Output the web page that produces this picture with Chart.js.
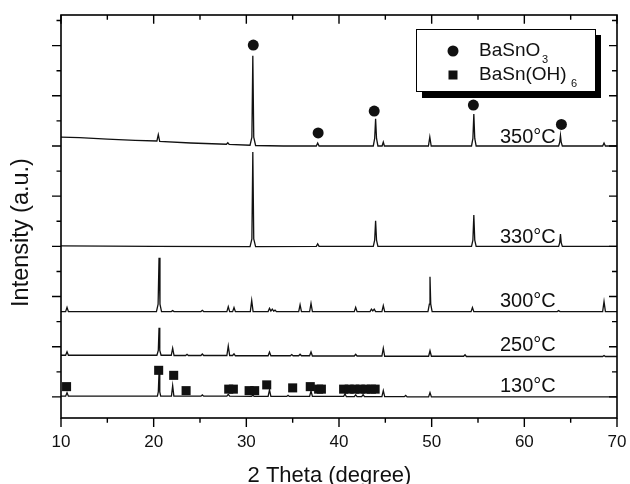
<!DOCTYPE html>
<html>
<head>
<meta charset="utf-8">
<script src="https://cdn.jsdelivr.net/npm/chart.js@4/dist/chart.umd.min.js"></script>
<style>
html,body{margin:0;padding:0;background:#fff;}
#wrap{width:630px;height:484px;position:relative;}
</style>
</head>
<body>
<div id="wrap"><canvas id="c" width="630" height="484"></canvas></div>
<script>
// ---- Data (2θ in degrees, intensity in arbitrary offset units) ----
const xTicks = [10, 20, 30, 40, 50, 60, 70];
const seriesNames = ['350°C', '330°C', '300°C', '250°C', '130°C'];

const s350 = [[10,10.35],[12,10.33],[15,10.27],[18,10.22],[20.35,10.2],[20.5,10.45],[20.65,10.18],[24,10.12],[27.85,10.07],[28.0,10.13],[28.15,10.06],[30.4,10.03],[30.6,10.35],[30.7,13.6],[30.8,10.35],[31.0,10.02],[34,10.0],[37.55,10.0],[37.7,10.12],[37.85,10.0],[43.7,10.0],[43.85,10.3],[43.95,11.08],[44.05,10.3],[44.2,10.0],[44.65,10.0],[44.78,10.16],[44.9,10.0],[49.65,10.0],[49.8,10.36],[49.95,10.0],[54.3,10.0],[54.45,10.3],[54.55,11.27],[54.65,10.3],[54.8,10.0],[63.7,10.0],[63.82,10.15],[63.9,10.42],[63.98,10.15],[64.1,10.0],[68.45,10.0],[68.6,10.12],[68.75,10.0],[70,10.0]];

const s330 = [[10,6.02],[20,6.0],[30.4,5.99],[30.6,6.3],[30.7,9.76],[30.8,6.3],[31.0,5.99],[37.55,6.0],[37.7,6.1],[37.85,6.0],[43.7,6.0],[43.85,6.25],[43.95,7.02],[44.05,6.25],[44.2,6.0],[54.3,6.0],[54.45,6.25],[54.55,7.25],[54.65,6.25],[54.8,6.0],[63.7,6.0],[63.82,6.15],[63.9,6.49],[63.98,6.15],[64.1,6.0],[70,6.0]];

const s300 = [[10,3.4],[10.5,3.4],[10.65,3.57],[10.8,3.4],[20.3,3.4],[20.48,3.7],[20.58,5.55],[20.68,3.7],[20.85,3.4],[21.9,3.4],[22.05,3.44],[22.2,3.4],[25.1,3.4],[25.25,3.45],[25.4,3.4],[27.9,3.4],[28.05,3.6],[28.2,3.4],[28.52,3.4],[28.67,3.56],[28.82,3.4],[30.43,3.4],[30.58,3.84],[30.73,3.4],[32.35,3.4],[32.5,3.53],[32.65,3.42],[32.8,3.5],[32.95,3.42],[33.1,3.46],[33.25,3.4],[35.65,3.4],[35.8,3.67],[35.95,3.4],[36.83,3.4],[36.98,3.73],[37.13,3.4],[41.65,3.4],[41.8,3.57],[41.95,3.4],[43.35,3.4],[43.5,3.5],[43.65,3.43],[43.8,3.5],[43.95,3.4],[44.63,3.4],[44.78,3.64],[44.93,3.4],[49.6,3.4],[49.75,3.7],[49.82,4.79],[49.9,3.7],[50.05,3.4],[54.25,3.4],[54.4,3.56],[54.55,3.4],[63.55,3.4],[63.7,3.44],[63.85,3.4],[68.45,3.4],[68.6,3.8],[68.75,3.4],[70,3.4]];

const s250 = [[10,1.66],[10.5,1.66],[10.65,1.8],[10.8,1.66],[20.35,1.66],[20.5,1.85],[20.58,2.76],[20.66,1.85],[20.8,1.66],[21.9,1.66],[22.05,1.94],[22.2,1.65],[23.45,1.65],[23.6,1.7],[23.75,1.65],[25.1,1.65],[25.25,1.71],[25.4,1.65],[27.9,1.65],[28.05,2.03],[28.2,1.65],[28.52,1.65],[28.67,1.72],[28.82,1.64],[32.35,1.64],[32.5,1.79],[32.65,1.64],[34.75,1.64],[34.9,1.69],[35.05,1.64],[35.65,1.64],[35.8,1.7],[35.95,1.64],[36.83,1.64],[36.98,1.79],[37.13,1.63],[41.65,1.63],[41.8,1.7],[41.95,1.63],[44.63,1.63],[44.78,1.94],[44.93,1.62],[49.67,1.62],[49.82,1.84],[49.97,1.62],[53.45,1.62],[53.6,1.68],[53.75,1.61],[68.45,1.61],[68.6,1.65],[68.75,1.61],[70,1.61]];

const s130 = [[10,0.03],[10.5,0.03],[10.65,0.17],[10.8,0.03],[20.4,0.03],[20.5,0.2],[20.58,0.98],[20.66,0.2],[20.76,0.03],[21.92,0.03],[22.05,0.45],[22.18,0.03],[25.1,0.03],[25.25,0.08],[25.4,0.03],[27.9,0.03],[28.05,0.1],[28.2,0.03],[30.55,0.02],[30.7,0.07],[30.85,0.02],[32.35,0.02],[32.5,0.28],[32.65,0.02],[34.35,0.02],[34.5,0.06],[34.65,0.02],[36.83,0.02],[36.98,0.24],[37.13,0.02],[40.5,0.02],[40.65,0.12],[40.8,0.01],[41.65,0.01],[41.8,0.08],[41.95,0.01],[42.45,0.01],[42.6,0.09],[42.75,0.01],[44.63,0.01],[44.78,0.25],[44.93,0.01],[47.05,0.01],[47.2,0.06],[47.35,0.0],[49.67,0.0],[49.82,0.17],[49.97,0.0],[70,0.0]];

const basno3Marks = [[30.75,14.02],[37.75,10.52],[43.8,11.39],[54.5,11.63],[64.0,10.86]];
const basnoh6Marks = [[10.6,0.41],[20.54,1.06],[22.16,0.86],[23.5,0.25],[28.1,0.31],[28.6,0.31],[30.3,0.25],[30.9,0.25],[32.2,0.48],[35.0,0.36],[36.9,0.41],[37.8,0.31],[38.1,0.31],[40.5,0.31],[41.1,0.31],[41.7,0.31],[42.3,0.31],[42.9,0.31],[43.5,0.31],[43.9,0.31]];

const toXY = arr => arr.map(p => ({x: p[0], y: p[1]}));
const FONT = '"Liberation Sans", Arial, Helvetica, sans-serif';

const curveSets = [s350, s330, s300, s250, s130].map((d, i) => ({
  label: seriesNames[i],
  data: toXY(d),
  borderColor: '#111',
  borderWidth: 1.3,
  pointRadius: 0,
  fill: false,
  tension: 0,
  order: 2
}));

const decor = {
  id: 'decor',
  afterDraw(chart) {
    const ctx = chart.ctx, a = chart.chartArea;
    const xs = chart.scales.x, ys = chart.scales.y;
    ctx.save();
    ctx.strokeStyle = '#000';
    // frame
    ctx.lineWidth = 1.6;
    ctx.strokeRect(a.left, a.top, a.right - a.left, a.bottom - a.top);
    // x ticks (bottom outward, top inward)
    ctx.lineWidth = 1.4;
    for (let v = 10; v <= 70; v += 5) {
      const px = xs.getPixelForValue(v);
      const major = v % 10 === 0;
      const L = major ? 9 : 4.7;
      ctx.beginPath();
      ctx.moveTo(px, a.bottom); ctx.lineTo(px, a.bottom + L);
      ctx.moveTo(px, a.top); ctx.lineTo(px, a.top + (major ? 8.7 : 4.7));
      ctx.stroke();
    }
    // y ticks (left outward, right inward)
    for (let v = 0; v <= 15; v += 1) {
      const py = ys.getPixelForValue(v);
      const major = v % 2 === 0;
      ctx.beginPath();
      ctx.moveTo(a.left, py); ctx.lineTo(a.left - (major ? 9 : 4.5), py);
      ctx.moveTo(a.right, py); ctx.lineTo(a.right - (major ? 8 : 5), py);
      ctx.stroke();
    }
    ctx.fillStyle = '#111';
    ctx.textBaseline = 'alphabetic';
    // x tick labels
    ctx.font = '17px ' + FONT;
    ctx.textAlign = 'center';
    xTicks.forEach(v => ctx.fillText(String(v), xs.getPixelForValue(v), a.bottom + 29));
    // temperature labels
    ctx.font = '20px ' + FONT;
    ctx.textAlign = 'left';
    const labY = [10.13, 6.12, 3.57, 1.84, 0.21];
    seriesNames.forEach((n, i) => {
      ctx.fillText(n, xs.getPixelForValue(57.37), ys.getPixelForValue(labY[i]));
    });
    // legend box with shadow
    const bx = 416, by = 29, bw = 179, bh = 62;
    ctx.fillStyle = '#000';
    ctx.fillRect(bx + 6, by + 6, bw, bh + 1);
    ctx.fillStyle = '#fff';
    ctx.fillRect(bx, by, bw, bh);
    ctx.lineWidth = 1;
    ctx.strokeRect(bx + 0.5, by + 0.5, bw, bh);
    ctx.fillStyle = '#111';
    ctx.beginPath(); ctx.arc(453, 51, 5.5, 0, Math.PI * 2); ctx.fill();
    ctx.fillRect(448.5, 70.5, 9, 9);
    ctx.font = '19px ' + FONT;
    ctx.fillText('BaSnO', 479, 56);
    ctx.fillText('BaSn(OH)', 479, 80);
    ctx.font = '11px ' + FONT;
    ctx.fillText('3', 542, 63);
    ctx.fillText('6', 571, 87);
    // axis titles
    ctx.font = '22px ' + FONT;
    ctx.textAlign = 'center';
    ctx.fillText('2 Theta (degree)', 329.5, 481.5);
    ctx.translate(28.3, 232.5);
    ctx.rotate(-Math.PI / 2);
    ctx.font = '23.5px ' + FONT;
    ctx.fillText('Intensity (a.u.)', 0, 0);
    ctx.restore();
  }
};

new Chart(document.getElementById('c'), {
  type: 'line',
  data: {
    datasets: [
      {
        label: 'BaSnO3', type: 'scatter', data: toXY(basno3Marks),
        pointStyle: 'circle', pointRadius: 5.5, backgroundColor: '#111', borderColor: '#111', borderWidth: 0,
        showLine: false, order: 0
      },
      {
        label: 'BaSn(OH)6', type: 'scatter', data: toXY(basnoh6Marks),
        pointStyle: 'rect', pointRadius: 6.4, backgroundColor: '#111', borderColor: '#111', borderWidth: 0,
        showLine: false, order: 0
      },
      ...curveSets
    ]
  },
  options: {
    responsive: false,
    animation: false,
    devicePixelRatio: 1,
    layout: { padding: { left: 0, right: 13, top: 15, bottom: 0 } },
    plugins: { legend: { display: false }, tooltip: { enabled: false } },
    scales: {
      x: {
        type: 'linear', min: 10, max: 70,
        ticks: { display: false },
        grid: { display: false, drawTicks: false },
        border: { display: false },
        afterFit: s => { s.height = 66; }
      },
      y: {
        type: 'linear', min: -0.84, max: 15.22,
        ticks: { display: false },
        grid: { display: false, drawTicks: false },
        border: { display: false },
        afterFit: s => { s.width = 61; }
      }
    }
  },
  plugins: [decor]
});
</script>
</body>
</html>
